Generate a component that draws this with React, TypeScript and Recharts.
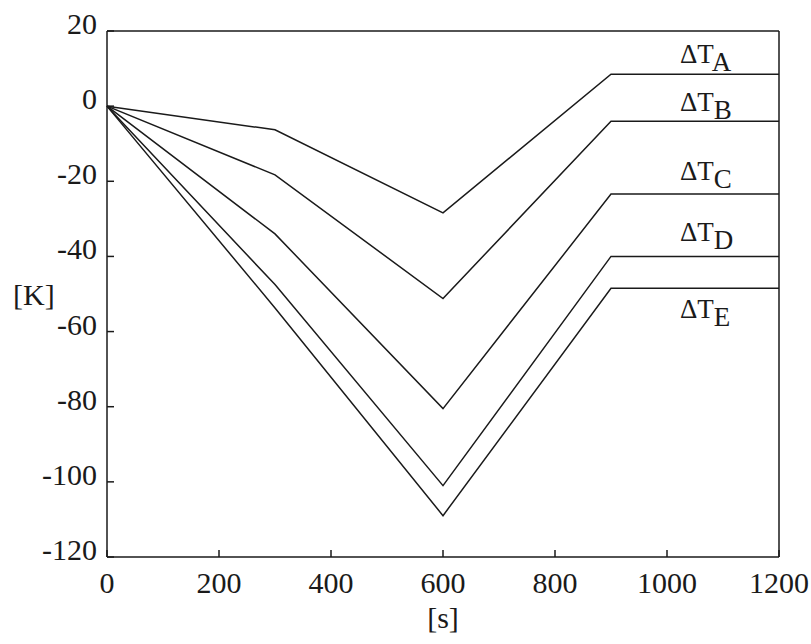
import React from 'react';
import { LineChart, Line, XAxis, YAxis, LabelList } from 'recharts';

// time steps [s]
const times = [0, 300, 600, 900, 1200];

// temperature differences [K]
const dTA = [0, -6.3, -28.4, 8.5, 8.5];
const dTB = [0, -18.3, -51.2, -4, -4];
const dTC = [0, -34, -80.5, -23.4, -23.4];
const dTD = [0, -47.5, -101, -40, -40];
const dTE = [0, -53.7, -109, -48.5, -48.5];

const seriesNames = ['A', 'B', 'C', 'D', 'E'];
const seriesValues = [dTA, dTB, dTC, dTD, dTE];

const xTicks = [0, 200, 400, 600, 800, 1000, 1200];
const yTicks = [-120, -100, -80, -60, -40, -20, 0, 20];

const FONT = "'Liberation Serif', 'Times New Roman', Times, serif";
const INK = '#1a1a1a';

// vertical offset of each curve label from its plateau (px)
const labelDy: Record<string, number> = { A: -11, B: -10, C: -14, D: -15, E: 30 };

const data = times.map((t, i) => {
  const row: Record<string, number> = { t };
  seriesNames.forEach((n, k) => {
    row[n] = seriesValues[k][i];
  });
  return row;
});

const txtStyle = { fontFamily: FONT, fontSize: 30, fill: INK };

const YTick = (props: any) => {
  const { x, y, payload } = props;
  return (
    <text x={x} y={y + 3} textAnchor="end" style={txtStyle}>
      {payload.value}
    </text>
  );
};

const XTick = (props: any) => {
  const { x, y, payload } = props;
  return (
    <text x={x} y={y} textAnchor="middle" style={txtStyle}>
      {payload.value}
    </text>
  );
};

const makeCurveLabel = (name: string) => (props: any) => {
  const { x, y, index } = props;
  if (index !== times.length - 1) return null;
  const by = y + labelDy[name];
  return (
    <text x={x - 99} y={by} style={{ fontFamily: FONT, fontSize: 27, fill: INK }}>
      <tspan>ΔT</tspan>
      <tspan dy={8}>{name}</tspan>
    </text>
  );
};

export default function App() {
  return (
    <div style={{ position: 'absolute', left: 0, top: 0, background: '#fff' }}>
      <LineChart
        width={811}
        height={644}
        data={data}
        margin={{ top: 30, right: 31, bottom: 0, left: 0 }}
      >
        <XAxis
          dataKey="t"
          type="number"
          domain={[0, 1200]}
          ticks={xTicks}
          height={87}
          stroke={INK}
          strokeWidth={1.5}
          tickSize={-7}
          tickMargin={43}
          tick={<XTick />}
          label={{ value: '[s]', position: 'insideBottom', offset: 16, style: txtStyle }}
        />
        <XAxis
          xAxisId="top"
          orientation="top"
          dataKey="t"
          type="number"
          domain={[0, 1200]}
          ticks={xTicks}
          height={1}
          stroke={INK}
          strokeWidth={1.5}
          tickSize={-7}
          tick={false}
        />
        <YAxis
          type="number"
          domain={[-120, 20]}
          ticks={yTicks}
          width={107}
          stroke={INK}
          strokeWidth={1.5}
          tickSize={-7}
          tickMargin={17}
          tick={<YTick />}
          label={{ value: '[K]', position: 'insideLeft', offset: 13, style: txtStyle }}
        />
        <YAxis
          yAxisId="right"
          orientation="right"
          type="number"
          domain={[-120, 20]}
          ticks={yTicks}
          width={1}
          stroke={INK}
          strokeWidth={1.5}
          tickSize={-7}
          tick={false}
        />
        {seriesNames.map((n) => (
          <Line
            key={n}
            dataKey={n}
            type="linear"
            stroke={INK}
            strokeWidth={1.5}
            dot={false}
            isAnimationActive={false}
          >
            <LabelList dataKey={n} content={makeCurveLabel(n)} />
          </Line>
        ))}
      </LineChart>
    </div>
  );
}
